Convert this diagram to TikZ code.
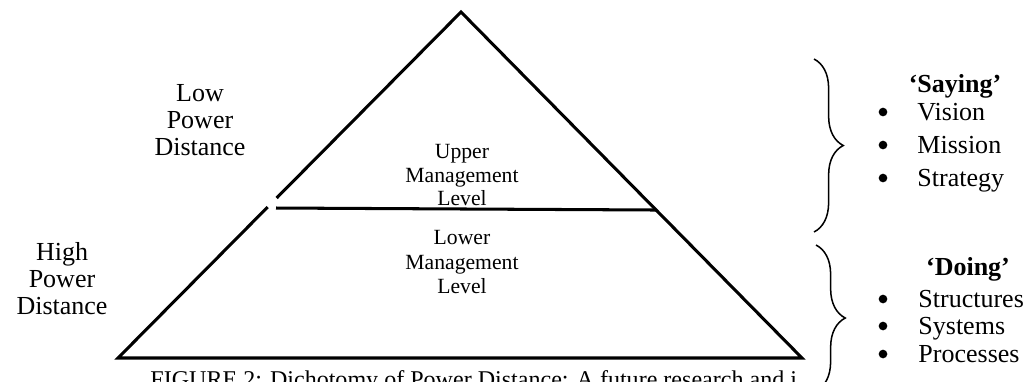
\documentclass[tikz,border=0pt]{standalone}
\usepackage{fontspec}
\setmainfont{Liberation Serif}
\usetikzlibrary{decorations.pathreplacing}

\begin{document}
\begin{tikzpicture}[x=0.4615pt,y=-0.4615pt,
    side/.style={align=center,font=\fontsize{12}{12.5}\selectfont},
    lvl/.style={align=center,font=\fontsize{10}{11}\selectfont},
    bracket/.style={decorate,decoration={brace,amplitude=13.5pt},line width=0.7pt},
    head/.style={anchor=base,font=\fontsize{12}{14}\selectfont\bfseries,inner sep=0pt},
    item/.style={anchor=base west,font=\fontsize{12}{14}\selectfont,inner sep=0pt},
    dot/.style={circle,fill,inner sep=0pt,minimum size=4pt}]
  \useasboundingbox (0,0) rectangle (1031,381);
  \clip (0,0) rectangle (1031,381);
  % pyramid
  \coordinate (apex) at (461,12);
  \coordinate (bl) at (118,358);
  \coordinate (br) at (802,358);
  \coordinate (gapT) at (276.6,198);
  \coordinate (gapB) at (267.7,207);
  \coordinate (divL) at (276,208);
  \coordinate (divR) at (656,210);
  \draw[line width=1.4pt,line join=miter] (gapB) -- (bl) -- (br) -- (apex) -- (gapT);
  \draw[line width=1.4pt] (divL) -- (divR);
  \node[lvl] (upper) at (462,175) {Upper\\Management\\Level};
  \node[lvl,font=\fontsize{10}{11.2}\selectfont] (lower) at (462,262) {Lower\\Management\\Level};
  \node[side] (low) at (200,120) {Low\\Power\\Distance};
  \node[side] (high) at (62,279) {High\\Power\\Distance};
  % braces
  \coordinate (b1t) at (814,59);
  \coordinate (b1b) at (814,232);
  \coordinate (b2t) at (816,245);
  \coordinate (b2b) at (816,391);
  \draw[bracket] (b1t) -- (b1b);
  \draw[bracket] (b2t) -- (b2b);
  % saying
  \node[head] (saying) at (955,92) {`Saying'};
  \node[dot] (d1) at (883,112) {};
  \node[item] (vision) at (917,120) {Vision};
  \node[dot] (d2) at (883,145) {};
  \node[item] (mission) at (917,153) {Mission};
  \node[dot] (d3) at (883,178) {};
  \node[item] (strategy) at (917,186) {Strategy};
  % doing
  \node[head] (doing) at (968,275) {`Doing'};
  \node[dot] (d4) at (883,299) {};
  \node[item] (structures) at (918,307) {Structures};
  \node[dot] (d5) at (883,326) {};
  \node[item] (systems) at (918,334) {Systems};
  \node[dot] (d6) at (883,354) {};
  \node[item] (processes) at (918,362) {Processes};
  % caption
  \node[item,font=\fontsize{11.1}{13}\selectfont] (caption) at (150,387) {FIGURE 2: Dichotomy of Power Distance: A future research and i};
\end{tikzpicture}
\end{document}
